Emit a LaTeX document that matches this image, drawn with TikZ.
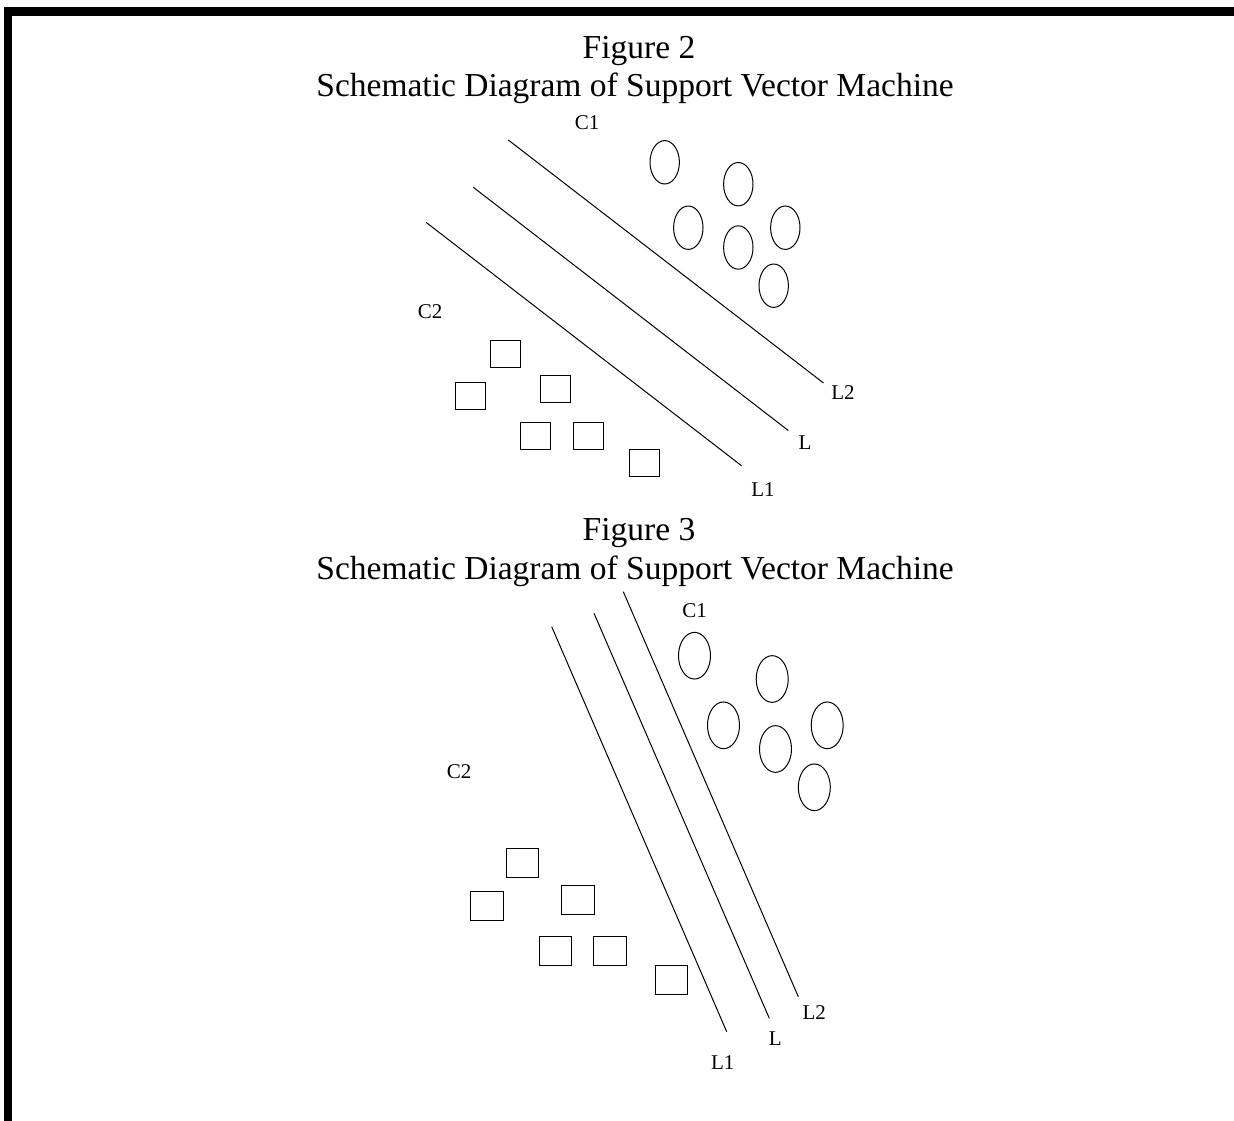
\documentclass[tikz,border=0pt]{standalone}
\usepackage{fontspec}
\setmainfont{Liberation Serif}
\usetikzlibrary{shapes.geometric}
\tikzset{
  ttl/.style={anchor=base,inner sep=0pt,font=\fontsize{33.5}{36}\selectfont},
  lbl/.style={anchor=base,inner sep=0pt,font=\fontsize{21}{24}\selectfont},
  sep/.style={line width=1pt},
  dotA/.style={draw,line width=1pt,ellipse,inner sep=0pt,minimum width=29.4pt,minimum height=43.4pt},
  boxA/.style={draw,line width=1pt,rectangle,inner sep=0pt,minimum width=30pt,minimum height=26.7pt},
  dotB/.style={draw,line width=1pt,ellipse,inner sep=0pt,minimum width=32pt,minimum height=46.7pt},
  boxB/.style={draw,line width=1pt,rectangle,inner sep=0pt,minimum width=32.3pt,minimum height=29pt},
}
\begin{document}
\begin{tikzpicture}[x=1pt,y=-1pt]
\useasboundingbox (0,0) rectangle (1234,1121);
\fill[white] (0,0) rectangle (1234,1121);
% frame
\fill[black] (4,7.3) rectangle (1234,15.7);
\fill[black] (4,7.3) rectangle (12.3,1121);

% ---------- Figure 2 ----------
\node[ttl] (t2a) at (639,58.3) {Figure 2};
\node[ttl] (t2b) at (635,96.7) {Schematic Diagram of Support Vector Machine};
\node[lbl] (c1a) at (587,129.3) {C1};
\node[lbl] (c2a) at (430,318.3) {C2};
\node[lbl] (l2a) at (843,399.3) {L2};
\node[lbl] (la) at (805,449.3) {L};
\node[lbl] (l1a) at (763,496) {L1};
\coordinate (a2s) at (508.3,140);
\coordinate (a2e) at (823.5,383);
\coordinate (a0s) at (473.3,187.3);
\coordinate (a0e) at (788.3,430.5);
\coordinate (a1s) at (426,222.3);
\coordinate (a1e) at (741.5,465.7);
\draw[sep] (a2s) -- (a2e);
\draw[sep] (a0s) -- (a0e);
\draw[sep] (a1s) -- (a1e);
\node[dotA] (ea1) at (664.7,162.3) {};
\node[dotA] (ea2) at (738.3,184.2) {};
\node[dotA] (ea3) at (688.3,227.7) {};
\node[dotA] (ea4) at (738.3,247.5) {};
\node[dotA] (ea5) at (785.3,227.7) {};
\node[dotA] (ea6) at (773.7,285.7) {};
\node[boxA] (ra1) at (505.7,354.3) {};
\node[boxA] (ra2) at (470.5,396) {};
\node[boxA] (ra3) at (555.8,388.7) {};
\node[boxA] (ra4) at (535.2,436) {};
\node[boxA] (ra5) at (588.2,436) {};
\node[boxA] (ra6) at (644.2,462.7) {};

% ---------- Figure 3 ----------
\node[ttl] (t3a) at (639,540.3) {Figure 3};
\node[ttl] (t3b) at (635,579) {Schematic Diagram of Support Vector Machine};
\node[lbl] (c1b) at (694.5,617.3) {C1};
\node[lbl] (c2b) at (459.2,778.3) {C2};
\node[lbl] (l2b) at (814.2,1019.3) {L2};
\node[lbl] (lb) at (775.3,1045.7) {L};
\node[lbl] (l1b) at (722.7,1069) {L1};
\coordinate (b2s) at (623.3,591.7);
\coordinate (b2e) at (798.3,996.7);
\coordinate (b0s) at (594,613.3);
\coordinate (b0e) at (769.3,1018.3);
\coordinate (b1s) at (551.7,626.7);
\coordinate (b1e) at (726.7,1031.7);
\draw[sep] (b2s) -- (b2e);
\draw[sep] (b0s) -- (b0e);
\draw[sep] (b1s) -- (b1e);
\node[dotB] (eb1) at (694.5,655.7) {};
\node[dotB] (eb2) at (772.2,679) {};
\node[dotB] (eb3) at (723.5,725.3) {};
\node[dotB] (eb4) at (775.5,749) {};
\node[dotB] (eb5) at (827.2,725.3) {};
\node[dotB] (eb6) at (814.3,787.3) {};
\node[boxB] (rb1) at (522.7,862.8) {};
\node[boxB] (rb2) at (487,906.2) {};
\node[boxB] (rb3) at (578,899.7) {};
\node[boxB] (rb4) at (555.2,951.2) {};
\node[boxB] (rb5) at (610,951.2) {};
\node[boxB] (rb6) at (671.7,980.2) {};
\end{tikzpicture}
\end{document}
